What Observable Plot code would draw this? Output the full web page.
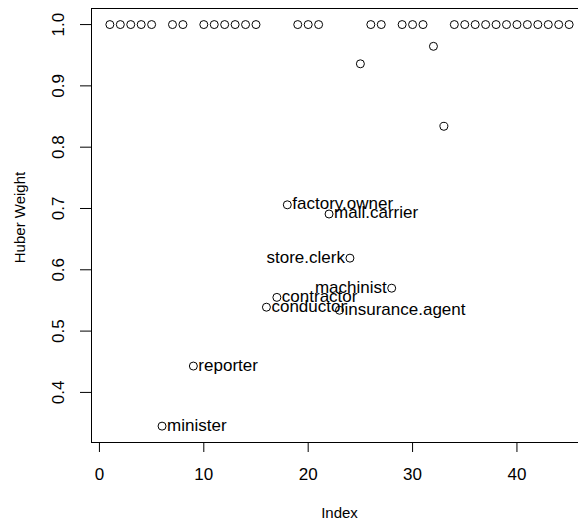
<!DOCTYPE html>
<html><head><meta charset="utf-8">
<script src="https://cdn.jsdelivr.net/npm/d3@7"></script>
<script src="https://cdn.jsdelivr.net/npm/@observablehq/plot@0.6"></script>
<style>html,body{margin:0;padding:0;background:#fff;overflow:hidden;}</style>
</head><body><div id="chart"></div>
<script>
const occupations = ["accountant","pilot","architect","author","chemist","minister","professor","dentist","reporter","engineer","undertaker","lawyer","physician","welfare.worker","teacher","conductor","contractor","factory.owner","store.manager","banker","bookkeeper","mail.carrier","insurance.agent","store.clerk","carpenter","electrician","RR.engineer","machinist","auto.repairman","plumber","gas.stn.attendant","coal.miner","streetcar.motorman","taxi.driver","truck.driver","machine.operator","barber","bartender","shoe.shiner","cook","soda.clerk","watchman","janitor","policeman","waiter"];
const hweights = [1,1,1,1,1,0.345,1,1,0.443,1,1,1,1,1,1,0.539,0.555,0.706,1,1,1,0.691,0.534,0.619,0.936,1,1,0.570,1,1,1,0.9645,0.834,1,1,1,1,1,1,1,1,1,1,1,1];
const labeled = ["minister","reporter","conductor","contractor","factory.owner","mail.carrier","insurance.agent","store.clerk","machinist"];
const leftLabeled = ["store.clerk","machinist"];
const xTicks = [0,10,20,30,40];
const yTicks = [0.4,0.5,0.6,0.7,0.8,0.9,1.0];
const xLabel = "Index";
const yLabel = "Huber Weight";

const data = hweights.map((w,i)=>({index:i+1, weight:w, name:occupations[i]}));
const lab = data.filter(d=>labeled.includes(d.name));
const font = "'Liberation Sans', Arial, Helvetica, sans-serif";
const fs = 17;
const fsTitle = 15;

const plot = Plot.plot({
  width: 578, height: 523,
  marginLeft: 91, marginRight: -9, marginTop: 8, marginBottom: 81,
  style: {fontFamily: font, background: "white", color: "black", overflow: "hidden"},
  x: {domain: [-0.76, 46.76]},
  y: {domain: [0.3183, 1.0262]},
  marks: [
    Plot.frame({stroke: "black", strokeWidth: 1}),
    Plot.axisX({ticks: xTicks, tickSize: 10, tickPadding: 15, fontSize: fs, label: null, tickFormat: d=>String(d)}),
    Plot.axisY({ticks: yTicks, tickSize: 11, tickFormat: ()=>"", label: null}),
    Plot.text(yTicks, {y: d=>d, text: d=>d.toFixed(1), frameAnchor: "left", dx: -33, rotate: -90, fontSize: fs, textAnchor: "middle", lineAnchor: "middle"}),
    Plot.dot(data, {x: "index", y: "weight", r: 4, stroke: "black", fill: "none", strokeWidth: 1}),
    Plot.text(lab.filter(d=>!leftLabeled.includes(d.name)), {x: "index", y: "weight", text: "name", textAnchor: "start", dx: 5, dy: -1, fontSize: fs, lineAnchor: "middle"}),
    Plot.text(lab.filter(d=>leftLabeled.includes(d.name)), {x: "index", y: "weight", text: "name", textAnchor: "end", dx: -5, dy: -1, fontSize: fs, lineAnchor: "middle"}),
    Plot.text([xLabel], {text: d=>d, frameAnchor: "bottom", dy: 71, fontSize: fsTitle, lineAnchor: "middle"}),
    Plot.text([yLabel], {text: d=>d, frameAnchor: "left", dx: -71, dy: -8, rotate: -90, fontSize: fsTitle, textAnchor: "middle", lineAnchor: "middle"})
  ]
});
document.getElementById("chart").appendChild(plot);
</script>
</body></html>
